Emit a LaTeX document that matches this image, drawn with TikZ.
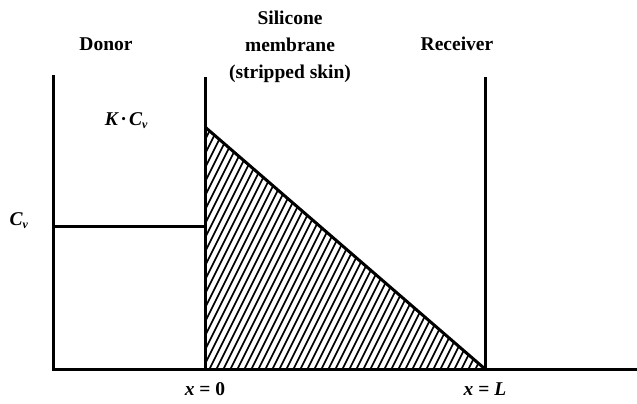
\documentclass[tikz,border=0pt]{standalone}
\usepackage{fontspec}
\setmainfont{Liberation Serif}
\usepackage{tikz}

\begin{document}
\begin{tikzpicture}[x=1pt,y=-1pt,line width=3pt]
\useasboundingbox (0,0) rectangle (637,404);
\tikzset{lbl/.style={font=\fontsize{19.5}{27}\selectfont\bfseries,align=center,inner sep=0pt}}
% walls and base
\coordinate (dtop) at (53,77);
\coordinate (dbot) at (53,369);
\coordinate (mtop) at (205,77);
\coordinate (mbot) at (205,369);
\coordinate (rtop) at (485,77);
\coordinate (rbot) at (485,369);
\coordinate (bend) at (637,369);
\coordinate (peak) at (205,127);
\coordinate (cvl) at (53,226);
\coordinate (cvr) at (205,226);
% hatched profile in the membrane
\begin{scope}
\clip (peak) -- (rbot) -- (mbot) -- cycle;
\foreach \i in {-200,-193,...,300}
  \draw[line width=1.6pt] (205+\i,372) -- (205+\i+150,72);
\end{scope}
\draw[line cap=rect] (dtop) -- (dbot) -- (bend);
\draw (mtop) -- (mbot);
\draw (rtop) -- (rbot);
\draw (cvl) -- (cvr);
\draw[line join=miter] (peak) -- (rbot);
% labels
\node[lbl] (donor) at (106,44) {Donor};
\node[lbl,anchor=base] (memb) at (290,78) {Silicone\\membrane\\(stripped skin)};
\node[lbl] (recv) at (457,44) {Receiver};
\node[lbl,anchor=east] (kcv) at (149,121) {\itshape K\,·\,C\raisebox{-0.35ex}{\fontsize{12}{12}\selectfont v}};
\node[lbl,anchor=west] (cv) at (8,221) {\itshape C\raisebox{-0.35ex}{\fontsize{12}{12}\selectfont v}};
\node[lbl] (x0) at (205,389) {\textit{x} = 0};
\node[lbl] (xl) at (485,389) {\textit{x} = \textit{L}};
\end{tikzpicture}
\end{document}
